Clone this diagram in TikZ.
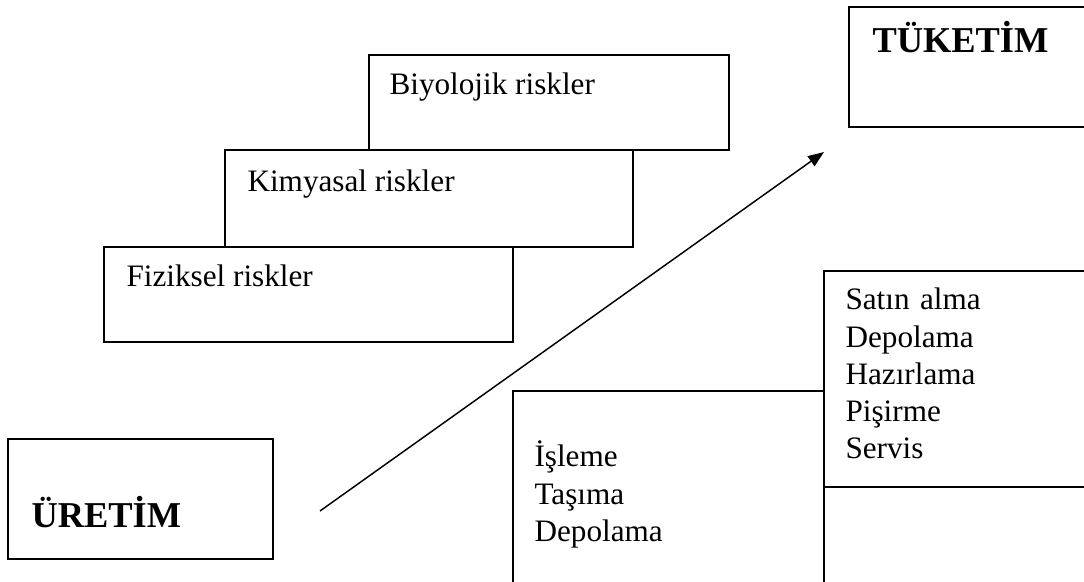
\documentclass[tikz,border=0pt]{standalone}
\usepackage{fontspec}
\setmainfont{Liberation Serif}
\usetikzlibrary{fit,arrows.meta}
\begin{document}
\begin{tikzpicture}[x=0.375pt,y=-0.375pt,
  box/.style={draw, line width=0.55pt, inner sep=0pt, outer sep=0pt, rectangle},
  lbl/.style={anchor=base west, inner sep=0pt, font=\fontsize{11.7}{13.9}\selectfont},
  big/.style={anchor=base west, inner sep=0pt, font=\fontsize{13.65}{16}\selectfont\bfseries},
  lst/.style={lbl, text width=90pt, align=left},
  arr/.style={line width=0.55pt, -{Triangle[length=6pt,width=4.5pt]}}]
\useasboundingbox (0,0) rectangle (1084,582);
\clip (0,0) rectangle (1084,582);
% boxes
\node[box, fit={(369,55) (729,150)}] (bio) {};
\node[box, fit={(225,150) (633,247)}] (kim) {};
\node[box, fit={(104,247) (513,342)}] (fiz) {};
\node[box, fit={(8,439) (273,559)}] (uret) {};
\node[box, fit={(849,7) (1110,127)}] (tuk) {};
\node[box, fit={(513,391) (824,600)}] (proc) {};
\node[box, fit={(824,271) (1110,487)}] (cons) {};
% texts
\node[lbl] (biot) at (389,95) {Biyolojik riskler};
\node[lbl] (kimt) at (247,192) {Kimyasal riskler};
\node[lbl] (fizt) at (126,287) {Fiziksel riskler};
\node[big] (urett) at (31,528) {ÜRETİM};
\node[big] (tukt) at (872,53) {TÜKETİM};
\node[lst] (proct) at (534,467) {İşleme\\Taşıma\\Depolama};
\node[lst] (const) at (845,310) {Satın alma\\Depolama\\Hazırlama\\Pişirme\\Servis};
% arrow
\coordinate (as) at (320,511);
\coordinate (ae) at (824,152);
\draw[arr] (as) -- (ae);
\end{tikzpicture}
\end{document}
